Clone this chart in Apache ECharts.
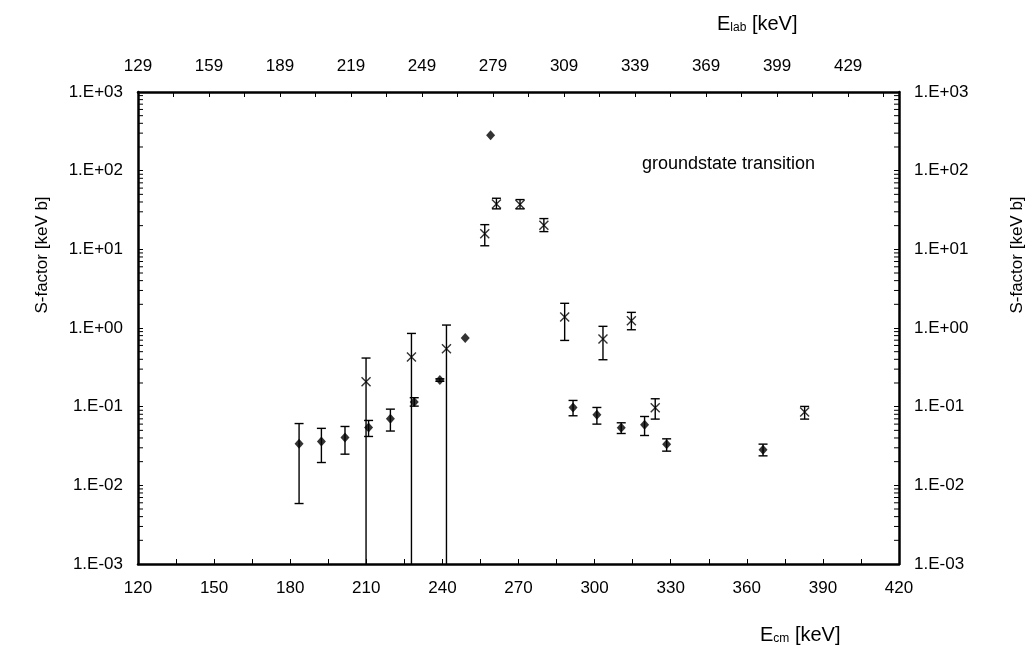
<!DOCTYPE html>
<html>
<head>
<meta charset="utf-8">
<script src="https://cdn.jsdelivr.net/npm/echarts@6/dist/echarts.min.js"></script>
<style>
html,body{margin:0;padding:0;background:#fff;}
#chart{width:1034px;height:646px;}
</style>
</head>
<body>
<div id="chart"></div>
<script>
// ---- data ----
// filled diamonds
var diamondE  = [183.5, 192.3, 201.6, 210.9, 219.5, 228.9, 239.0, 249.0, 259.0, 291.5, 300.9, 310.5, 319.7, 328.4, 366.4];
var diamondS  = [0.0337, 0.036, 0.0406, 0.0544, 0.070, 0.115, 0.218, 0.746, 282, 0.0977, 0.0789, 0.054, 0.0589, 0.0334, 0.0283];
var diamondLo = [0.00587, 0.0195, 0.0249, 0.0418, 0.049, 0.1016, 0.21, null, null, 0.0766, 0.060, 0.0456, 0.043, 0.0272, 0.0237];
var diamondHi = [0.061, 0.053, 0.056, 0.0668, 0.093, 0.130, 0.226, null, null, 0.12, 0.0977, 0.0624, 0.075, 0.039, 0.0334];
// crosses (0 in Lo = error bar runs below the axis)
var crossE  = [209.9, 227.8, 241.6, 256.7, 261.3, 270.6, 280.0, 288.2, 303.3, 314.5, 323.9, 382.8];
var crossS  = [0.207, 0.428, 0.546, 15.8, 37.8, 37.1, 20.2, 1.38, 0.724, 1.24, 0.0968, 0.0853];
var crossLo = [0, 0, 0, 11.1, 32.7, 32.7, 16.8, 0.695, 0.395, 0.95, 0.0695, 0.0695];
var crossHi = [0.415, 0.853, 1.09, 20.6, 44.6, 42.9, 24.6, 2.06, 1.05, 1.58, 0.126, 0.1007];

var bottomTickLabels = ['120','150','180','210','240','270','300','330','360','390','420'];
var topTickLabels    = ['129','159','189','219','249','279','309','339','369','399','429'];
var yTickLabels      = ['1.E-03','1.E-02','1.E-01','1.E+00','1.E+01','1.E+02','1.E+03'];
var labOffsetSpan = 321.5; // E_lab span (129 .. 450.5) across the frame

var FONT = 'Liberation Sans, Arial, sans-serif';

function zip3(e, lo, hi) {
  var out = [];
  for (var i = 0; i < e.length; i++) {
    if (hi[i] == null) continue;
    out.push([e[i], lo[i], hi[i]]);
  }
  return out;
}
function zip2(a, b) { return a.map(function (v, i) { return [v, b[i]]; }); }

var minorVals = [];
for (var n = -3; n < 3; n++) for (var k = 2; k <= 9; k++) minorVals.push([120, k * Math.pow(10, n)]);

function errRender(params, api) {
  var cs = params.coordSys;
  var x = api.value(0), lo = api.value(1), hi = api.value(2);
  var pHi = api.coord([x, hi]);
  var px = pHi[0];
  var yLo, capLo = true;
  if (!(lo > 0)) { yLo = cs.y + cs.height; capLo = false; }
  else yLo = api.coord([x, lo])[1];
  var st = { stroke: '#000', lineWidth: 1.4 };
  var w = 4.5;
  var ch = [
    { type: 'line', shape: { x1: px, y1: pHi[1], x2: px, y2: yLo }, style: st },
    { type: 'line', shape: { x1: px - w, y1: pHi[1], x2: px + w, y2: pHi[1] }, style: st }
  ];
  if (capLo) ch.push({ type: 'line', shape: { x1: px - w, y1: yLo, x2: px + w, y2: yLo }, style: st });
  return { type: 'group', children: ch };
}

function minorRender(params, api) {
  var cs = params.coordSys;
  var y = api.coord([120, api.value(1)])[1];
  var st = { stroke: '#000', lineWidth: 1 };
  return { type: 'group', children: [
    { type: 'line', shape: { x1: cs.x, y1: y, x2: cs.x + 5, y2: y }, style: st },
    { type: 'line', shape: { x1: cs.x + cs.width - 5, y1: y, x2: cs.x + cs.width, y2: y }, style: st }
  ]};
}

function yFmt(v) {
  var i = Math.round(Math.log10(v)) + 3;
  return yTickLabels[i] || '';
}

var axisLineStyle = { show: true, lineStyle: { color: '#000', width: 2.5 } };
var tickStyle = { show: true, inside: true, length: 5, lineStyle: { color: '#000', width: 1 } };
var labelStyle = { color: '#000', fontSize: 17, fontFamily: FONT };
var richTitle = {
  a: { fontSize: 20, fontFamily: FONT, lineHeight: 24, verticalAlign: 'bottom' },
  b: { fontSize: 12, fontFamily: FONT, lineHeight: 10, verticalAlign: 'bottom' }
};

var chart = echarts.init(document.getElementById('chart'));
chart.setOption({
  backgroundColor: '#fff',
  animation: false,
  grid: { left: 138, right: 135, top: 92, bottom: 82 },
  xAxis: [
    {
      type: 'value', position: 'bottom', min: 120, max: 420, interval: 15,
      axisLine: axisLineStyle, axisTick: tickStyle, splitLine: { show: false },
      axisLabel: Object.assign({ margin: 16, showMinLabel: true, showMaxLabel: true, formatter: function (v) {
        var i = (v - 120) / 30; return Number.isInteger(i) ? (bottomTickLabels[i] || '') : '';
      } }, labelStyle)
    },
    {
      type: 'value', position: 'top', min: 0, max: labOffsetSpan, interval: 15,
      axisLine: axisLineStyle, axisTick: tickStyle, splitLine: { show: false },
      axisLabel: Object.assign({ margin: 17, showMaxLabel: false, formatter: function (v) {
        var i = v / 30; return Number.isInteger(i) ? (topTickLabels[i] || '') : '';
      } }, labelStyle)
    }
  ],
  yAxis: [
    {
      type: 'log', logBase: 10, min: 0.001, max: 1000, splitNumber: 6, position: 'left',
      axisLine: axisLineStyle, axisTick: tickStyle, splitLine: { show: false },
      axisLabel: Object.assign({ margin: 15, formatter: yFmt }, labelStyle)
    },
    {
      type: 'log', logBase: 10, min: 0.001, max: 1000, splitNumber: 6, position: 'right',
      axisLine: axisLineStyle, axisTick: tickStyle, splitLine: { show: false },
      axisLabel: Object.assign({ margin: 15, formatter: yFmt }, labelStyle)
    }
  ],
  series: [
    { type: 'custom', silent: true, renderItem: minorRender, data: minorVals, encode: { x: 0, y: 1 }, z: 1 },
    { type: 'custom', silent: true, renderItem: errRender, data: zip3(diamondE, diamondLo, diamondHi), encode: { x: 0, y: 2 }, z: 2 },
    { type: 'custom', silent: true, renderItem: errRender, data: zip3(crossE, crossLo, crossHi), encode: { x: 0, y: 2 }, z: 2 },
    { type: 'scatter', data: zip2(diamondE, diamondS), symbol: 'diamond', symbolSize: [9, 10],
      itemStyle: { color: '#000' }, z: 3 },
    { type: 'scatter', data: zip2(crossE, crossS), symbol: 'path://M0,0L10,10M10,0L0,10', symbolSize: 9,
      itemStyle: { color: 'rgba(0,0,0,0)', borderColor: '#000', borderWidth: 1.4 }, z: 3 }
  ],
  graphic: [
    { type: 'text', left: 642, top: 155, style: { text: 'groundstate transition', font: '18px ' + FONT, fill: '#000' } },
    { type: 'text', x: 717, y: 10, style: { text: '{a|E}{b|lab}{a| [keV]}', fill: '#000', rich: richTitle } },
    { type: 'text', x: 760, y: 621, style: { text: '{a|E}{b|cm}{a| [keV]}', fill: '#000', rich: richTitle } },
    { type: 'text', x: 42, y: 255, rotation: Math.PI / 2, style: {
        text: 'S-factor [keV b]', font: '17px ' + FONT, fill: '#000', align: 'center', verticalAlign: 'middle' } },
    { type: 'text', x: 1017, y: 255, rotation: Math.PI / 2, style: {
        text: 'S-factor [keV b]', font: '17px ' + FONT, fill: '#000', align: 'center', verticalAlign: 'middle' } }
  ]
});
</script>
</body>
</html>
